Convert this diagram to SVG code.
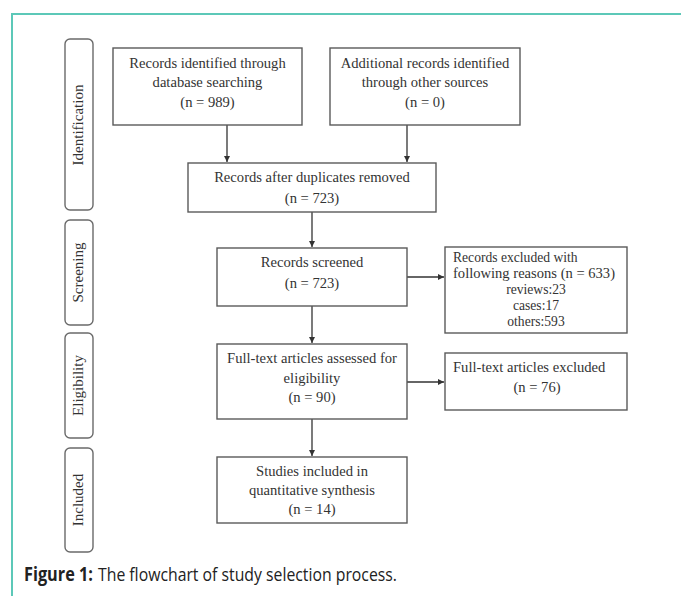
<svg xmlns="http://www.w3.org/2000/svg" width="681" height="596" viewBox="0 0 681 596">
<style>
.box{fill:#fff;stroke:#5a5a5a;stroke-width:1.4}
.side{fill:#fff;stroke:#6a6a6a;stroke-width:1.4}
.t{font-family:"Liberation Serif","Times New Roman",serif;font-size:14.6px;fill:#333;text-anchor:middle}
.ts{font-family:"Liberation Serif","Times New Roman",serif;font-size:13.6px;fill:#333;text-anchor:middle}
.s{font-family:"Liberation Serif","Times New Roman",serif;font-size:15px;fill:#333;text-anchor:middle}
.c{stroke:#333;stroke-width:1.3;fill:none;marker-end:url(#ah)}
.cap{font-family:"Open Sans","Liberation Sans",sans-serif;font-size:19px;fill:#222}
</style>
<defs>
<marker id="ah" markerWidth="8" markerHeight="8" refX="6" refY="3" orient="auto" markerUnits="userSpaceOnUse">
<path d="M0,0 L6,3 L0,6 Z" fill="#333"/>
</marker>
</defs>
<rect width="681" height="596" fill="#fff"/>
<path d="M12,596 V14 H681" fill="none" stroke="#5cc8b8" stroke-width="2"/>

<g id="side-identification"><rect class="side" x="65" y="39" width="28" height="171" rx="5"/><text class="s" transform="translate(83,125) rotate(-90)">Identification</text></g>
<g id="side-screening"><rect class="side" x="65" y="220" width="28" height="105" rx="5"/><text class="s" transform="translate(83,272.5) rotate(-90)">Screening</text></g>
<g id="side-eligibility"><rect class="side" x="65" y="333" width="28" height="105" rx="5"/><text class="s" transform="translate(83,385.5) rotate(-90)">Eligibility</text></g>
<g id="side-included"><rect class="side" x="65" y="448" width="28" height="104" rx="5"/><text class="s" transform="translate(83,500) rotate(-90)">Included</text></g>

<g id="connectors">
<path class="c" d="M227,125 V162"/>
<path class="c" d="M407,125 V162"/>
<path class="c" d="M312,212 V247"/>
<path class="c" d="M407,277 H444"/>
<path class="c" d="M312,306 V343"/>
<path class="c" d="M407,382 H444"/>
<path class="c" d="M312,419 V456"/>
</g>

<g id="db"><rect class="box" x="113" y="48" width="189" height="77"/>
<text class="t" x="207.5" y="68">Records identified through</text>
<text class="t" x="207.5" y="87">database searching</text>
<text class="t" x="207.5" y="107">(n = 989)</text></g>

<g id="other"><rect class="box" x="330" y="48" width="190" height="77"/>
<text class="t" x="425" y="68">Additional records identified</text>
<text class="t" x="425" y="87">through other sources</text>
<text class="t" x="425" y="107">(n = 0)</text></g>

<g id="dup"><rect class="box" x="188" y="163" width="248" height="49"/>
<text class="t" x="312" y="182">Records after duplicates removed</text>
<text class="t" x="312" y="203">(n = 723)</text></g>

<g id="screened"><rect class="box" x="217" y="248" width="190" height="58"/>
<text class="t" x="312" y="267">Records screened</text>
<text class="t" x="312" y="288">(n = 723)</text></g>

<g id="excluded"><rect class="box" x="445" y="247" width="182" height="86"/>
<text class="ts" x="453" y="262" style="text-anchor:start">Records excluded with</text>
<text class="ts" x="453" y="278" style="text-anchor:start" textLength="162" lengthAdjust="spacingAndGlyphs">following reasons (n = 633)</text>
<text class="ts" x="536" y="294">reviews:23</text>
<text class="ts" x="536" y="310">cases:17</text>
<text class="ts" x="536" y="326">others:593</text></g>

<g id="assessed"><rect class="box" x="217" y="344" width="190" height="75"/>
<text class="t" x="312" y="363">Full-text articles assessed for</text>
<text class="t" x="312" y="383">eligibility</text>
<text class="t" x="312" y="402">(n = 90)</text></g>

<g id="ftexcluded"><rect class="box" x="445" y="353" width="182" height="57"/>
<text class="t" x="453" y="372" style="text-anchor:start">Full-text articles excluded</text>
<text class="t" x="537" y="392">(n = 76)</text></g>

<g id="included"><rect class="box" x="217" y="457" width="190" height="66"/>
<text class="t" x="312" y="476">Studies included in</text>
<text class="t" x="312" y="495">quantitative synthesis</text>
<text class="t" x="312" y="514">(n = 14)</text></g>

<text class="cap" x="24" y="581" font-weight="bold" textLength="69" lengthAdjust="spacingAndGlyphs">Figure 1:</text>
<text class="cap" x="98" y="581" textLength="299" lengthAdjust="spacingAndGlyphs">The flowchart of study selection process.</text>
</svg>
